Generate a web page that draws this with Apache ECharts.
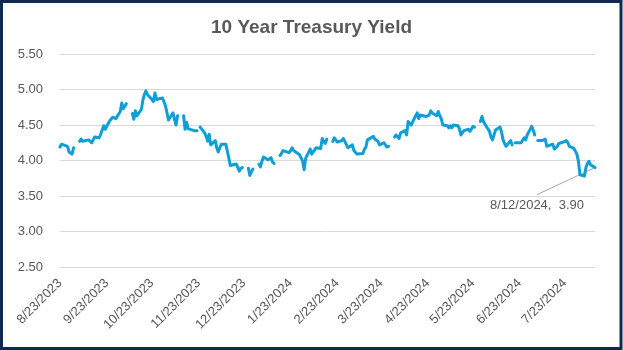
<!DOCTYPE html>
<html>
<head>
<meta charset="utf-8">
<script src="https://cdn.jsdelivr.net/npm/echarts@6/dist/echarts.min.js"></script>
<style>
  html, body { margin: 0; padding: 0; background: #ffffff; }
  #chart { width: 623px; height: 350px; }
</style>
</head>
<body>
<div id="chart"></div>
<script>
// Daily 10-year Treasury constant-maturity yield (%); null marks market holidays.
const chartTitle = '10 Year Treasury Yield';

const dates = [
  '2023-08-23','2023-08-24','2023-08-25','2023-08-28','2023-08-29','2023-08-30','2023-08-31',
  '2023-09-01','2023-09-04','2023-09-05','2023-09-06','2023-09-07','2023-09-08','2023-09-11','2023-09-12','2023-09-13','2023-09-14','2023-09-15','2023-09-18','2023-09-19','2023-09-20','2023-09-21','2023-09-22','2023-09-25','2023-09-26','2023-09-27','2023-09-28','2023-09-29',
  '2023-10-02','2023-10-03','2023-10-04','2023-10-05','2023-10-06','2023-10-09','2023-10-10','2023-10-11','2023-10-12','2023-10-13','2023-10-16','2023-10-17','2023-10-18','2023-10-19','2023-10-20','2023-10-23','2023-10-24','2023-10-25','2023-10-26','2023-10-27','2023-10-30','2023-10-31',
  '2023-11-01','2023-11-02','2023-11-03','2023-11-06','2023-11-07','2023-11-08','2023-11-09','2023-11-10','2023-11-13','2023-11-14','2023-11-15','2023-11-16','2023-11-17','2023-11-20','2023-11-21','2023-11-22','2023-11-23','2023-11-24','2023-11-27','2023-11-28','2023-11-29','2023-11-30',
  '2023-12-01','2023-12-04','2023-12-05','2023-12-06','2023-12-07','2023-12-08','2023-12-11','2023-12-12','2023-12-13','2023-12-14','2023-12-15','2023-12-18','2023-12-19','2023-12-20','2023-12-21','2023-12-22','2023-12-25','2023-12-26','2023-12-27','2023-12-28','2023-12-29',
  '2024-01-01','2024-01-02','2024-01-03','2024-01-04','2024-01-05','2024-01-08','2024-01-09','2024-01-10','2024-01-11','2024-01-12','2024-01-15','2024-01-16','2024-01-17','2024-01-18','2024-01-19','2024-01-22','2024-01-23','2024-01-24','2024-01-25','2024-01-26','2024-01-29','2024-01-30','2024-01-31',
  '2024-02-01','2024-02-02','2024-02-05','2024-02-06','2024-02-07','2024-02-08','2024-02-09','2024-02-12','2024-02-13','2024-02-14','2024-02-15','2024-02-16','2024-02-19','2024-02-20','2024-02-21','2024-02-22','2024-02-23','2024-02-26','2024-02-27','2024-02-28','2024-02-29',
  '2024-03-01','2024-03-04','2024-03-05','2024-03-06','2024-03-07','2024-03-08','2024-03-11','2024-03-12','2024-03-13','2024-03-14','2024-03-15','2024-03-18','2024-03-19','2024-03-20','2024-03-21','2024-03-22','2024-03-25','2024-03-26','2024-03-27','2024-03-28','2024-03-29',
  '2024-04-01','2024-04-02','2024-04-03','2024-04-04','2024-04-05','2024-04-08','2024-04-09','2024-04-10','2024-04-11','2024-04-12','2024-04-15','2024-04-16','2024-04-17','2024-04-18','2024-04-19','2024-04-22','2024-04-23','2024-04-24','2024-04-25','2024-04-26','2024-04-29','2024-04-30',
  '2024-05-01','2024-05-02','2024-05-03','2024-05-06','2024-05-07','2024-05-08','2024-05-09','2024-05-10','2024-05-13','2024-05-14','2024-05-15','2024-05-16','2024-05-17','2024-05-20','2024-05-21','2024-05-22','2024-05-23','2024-05-24','2024-05-27','2024-05-28','2024-05-29','2024-05-30','2024-05-31',
  '2024-06-03','2024-06-04','2024-06-05','2024-06-06','2024-06-07','2024-06-10','2024-06-11','2024-06-12','2024-06-13','2024-06-14','2024-06-17','2024-06-18','2024-06-19','2024-06-20','2024-06-21','2024-06-24','2024-06-25','2024-06-26','2024-06-27','2024-06-28',
  '2024-07-01','2024-07-02','2024-07-03','2024-07-04','2024-07-05','2024-07-08','2024-07-09','2024-07-10','2024-07-11','2024-07-12','2024-07-15','2024-07-16','2024-07-17','2024-07-18','2024-07-19','2024-07-22','2024-07-23','2024-07-24','2024-07-25','2024-07-26','2024-07-29','2024-07-30','2024-07-31',
  '2024-08-01','2024-08-02','2024-08-05','2024-08-06','2024-08-07','2024-08-08','2024-08-09','2024-08-12'
];

const yields = [
  4.19,4.23,4.25,4.20,4.12,4.12,4.09,
  4.18,null,4.27,4.30,4.27,4.26,4.29,4.29,4.25,4.29,4.33,4.32,4.37,4.35,4.49,4.44,4.56,4.55,4.61,4.59,4.59,
  4.69,4.81,4.73,4.72,4.80,null,4.66,4.58,4.70,4.63,4.72,4.85,4.93,4.98,4.93,4.86,4.83,4.95,4.86,4.84,4.88,4.88,
  4.77,4.67,4.57,4.67,4.58,4.50,4.63,null,4.63,4.44,4.54,4.45,4.44,4.42,4.41,4.42,null,4.47,4.39,4.34,4.27,4.37,
  4.22,4.28,4.18,4.12,4.14,4.23,4.23,4.21,4.04,3.93,3.91,3.95,3.93,3.85,3.89,3.90,null,3.89,3.79,3.84,3.88,
  null,3.95,3.91,3.99,4.05,4.01,4.02,4.04,3.98,3.96,null,4.07,4.10,4.14,4.15,4.11,4.14,4.18,4.14,4.15,4.08,4.06,3.99,
  3.87,4.03,4.16,4.09,4.12,4.15,4.18,4.17,4.31,4.27,4.24,4.30,null,4.27,4.32,4.33,4.26,4.28,4.31,4.27,4.25,
  4.18,4.22,4.14,4.12,4.09,4.09,4.10,4.16,4.19,4.29,4.31,4.34,4.30,4.28,4.27,4.22,4.25,4.24,4.19,4.20,null,
  4.33,4.36,4.36,4.31,4.39,4.42,4.36,4.55,4.56,4.50,4.63,4.67,4.59,4.64,4.62,4.62,4.60,4.64,4.70,4.67,4.63,4.69,
  4.63,4.59,4.50,4.49,4.46,4.49,4.46,4.50,4.49,4.45,4.36,4.38,4.42,4.44,4.41,4.43,4.48,4.47,null,4.55,4.62,4.55,4.51,
  4.41,4.33,4.29,4.29,4.43,4.47,4.40,4.29,4.24,4.20,4.28,4.22,null,4.25,4.26,4.25,4.25,4.32,4.29,4.36,
  4.48,4.43,4.36,null,4.28,4.28,4.30,4.30,4.20,4.18,4.23,4.16,4.16,4.20,4.24,4.26,4.25,4.28,4.25,4.20,4.17,4.15,4.09,
  3.99,3.80,3.78,3.90,3.96,3.99,3.94,3.90
];

// Monthly date labels along the horizontal axis
const tickDates = [
  '2023-08-23','2023-09-23','2023-10-23','2023-11-23','2023-12-23','2024-01-23',
  '2024-02-23','2024-03-23','2024-04-23','2024-05-23','2024-06-23','2024-07-23'
];

// Vertical scale
const yMin = 2.5, yMax = 5.5, yStep = 0.5;

const toTime = s => {
  const [y, m, d] = s.split('-').map(Number);
  return new Date(y, m - 1, d).getTime();
};
const fmtDate = t => {
  const d = new Date(t);
  return (d.getMonth() + 1) + '/' + d.getDate() + '/' + d.getFullYear();
};

const FONT = '"Liberation Sans", Arial, sans-serif';
const TEXT = '#595959';

const seriesData = dates.map((d, i) => [toTime(d), yields[i]]);
const lastIdx = dates.length - 1;

const chart = echarts.init(document.getElementById('chart'), null, { renderer: 'canvas' });

chart.setOption({
  animation: false,
  backgroundColor: '#ffffff',
  title: {
    text: chartTitle,
    left: 'center',
    top: 13,
    textStyle: { fontFamily: FONT, fontSize: 19, fontWeight: 'bold', color: TEXT }
  },
  grid: { left: 60, right: 28, top: 54, bottom: 83, outerBoundsMode: 'none' },
  xAxis: {
    // day timestamps on a linear scale, labelled monthly
    type: 'value',
    min: toTime(dates[0]),
    max: toTime(dates[lastIdx]),
    axisLine: { show: false },
    axisTick: { show: false },
    splitLine: { show: false },
    axisLabel: {
      customValues: tickDates.map(toTime),
      formatter: v => fmtDate(v),
      rotate: 45,
      margin: 14,
      color: TEXT,
      fontFamily: FONT,
      fontSize: 13
    }
  },
  yAxis: {
    type: 'value',
    min: yMin,
    max: yMax,
    interval: yStep,
    axisLine: { show: false },
    axisTick: { show: false },
    splitLine: { lineStyle: { color: '#D9D9D9', width: 1 } },
    axisLabel: {
      formatter: v => v.toFixed(2),
      margin: 17,
      color: TEXT,
      fontFamily: FONT,
      fontSize: 13
    }
  },
  series: [{
    type: 'line',
    data: seriesData,
    showSymbol: false,
    connectNulls: false,
    smooth: false,
    lineStyle: { color: '#0F9ED5', width: 3, join: 'round', cap: 'round' },
    itemStyle: { color: '#0F9ED5' },
    z: 3
  }]
});

// Callout for the latest reading, placed relative to its point on the scales
const p = chart.convertToPixel({ seriesIndex: 0 }, seriesData[lastIdx]);
const labelX = p[0] - 58;
const labelY = p[1] + 38;

chart.setOption({
  graphic: [
    {
      type: 'line',
      z: 2,
      shape: { x1: p[0], y1: p[1], x2: labelX, y2: labelY - 11 },
      style: { stroke: '#A6A6A6', lineWidth: 1 }
    },
    {
      type: 'text',
      z: 4,
      x: labelX,
      y: labelY,
      style: {
        text: fmtDate(seriesData[lastIdx][0]) + ',  ' + yields[lastIdx].toFixed(2),
        align: 'center',
        verticalAlign: 'middle',
        fill: TEXT,
        fontFamily: FONT,
        fontSize: 13
      }
    },
    {
      type: 'rect',
      z: 10,
      shape: { x: 1.5, y: 1.5, width: 619.5, height: 347 },
      style: { fill: null, stroke: '#0E2A4F', lineWidth: 3 }
    }
  ]
});
</script>
</body>
</html>
